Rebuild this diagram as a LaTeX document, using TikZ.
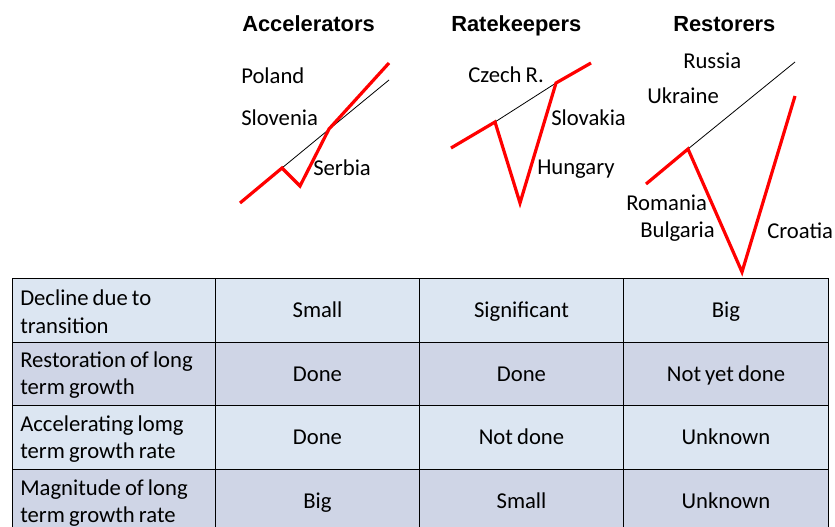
\documentclass[tikz,border=0pt]{standalone}
\usepackage{fontspec}
\setmainfont[WordSpace=0.8]{Carlito}
\newfontfamily\titlefont{Liberation Sans}
\definecolor{rowA}{RGB}{220,230,242}
\definecolor{rowB}{RGB}{207,213,230}
\begin{document}
\begin{tikzpicture}[x=0.75pt,y=-0.75pt,
  redline/.style={draw=red, line width=2.4pt, line join=miter},
  trend/.style={draw=black, line width=0.6pt},
  lbl/.style={anchor=base west, inner sep=0pt, font=\fontsize{17}{20.5}\selectfont},
  ttl/.style={anchor=base west, inner sep=0pt, font=\titlefont\bfseries\fontsize{16.4}{19}\selectfont},
  cellbase/.style={draw=black, line width=0.75pt, anchor=north west, inner ysep=0pt,
    font=\fontsize{17}{20.5}\selectfont},
  cell/.style={cellbase, align=center, inner xsep=0pt, text height=13.5pt, text depth=3pt},
  headcell/.style={cellbase, minimum width=152.25pt},
  headtxt/.style={anchor=west, inner sep=0pt, align=left, font=\fontsize{17}{20.5}\selectfont, yshift=-1pt},
  hA/.style={minimum height=48pt},
  hB/.style={minimum height=47.25pt}]
\useasboundingbox (0,0) rectangle (835,527);
% titles
\node[ttl] (t1) at (242,32) {Accelerators};
\node[ttl] (t2) at (451,32) {Ratekeepers};
\node[ttl] (t3) at (673,32) {Restorers};
% Accelerators chart
\coordinate (a1) at (240,203);
\coordinate (a2) at (282,168);
\coordinate (a3) at (300,186);
\coordinate (a4) at (329,129);
\coordinate (a5) at (389,63);
\coordinate (a6) at (389,80);
\draw[trend] (a2) -- (a6);
\draw[redline] (a1) -- (a2) -- (a3) -- (a4) -- (a5);
\node[lbl] (pl) at (241,84) {Poland};
\node[lbl] (sl) at (241,126) {Slovenia};
\node[lbl] (sb) at (313,176) {Serbia};
% Ratekeepers chart
\coordinate (b1) at (451,148);
\coordinate (b2) at (495,122);
\coordinate (b3) at (520,203);
\coordinate (b4) at (556,83);
\coordinate (b5) at (591,63);
\draw[trend] (b2) -- (b4);
\draw[redline] (b1) -- (b2) -- (b3) -- (b4) -- (b5);
\node[lbl] (cz) at (468,83) {Czech R.};
\node[lbl] (sk) at (551,126) {Slovakia};
\node[lbl] (hu) at (537,175) {Hungary};
% Restorers chart
\coordinate (c1) at (646,184);
\coordinate (c2) at (688,149);
\coordinate (c3) at (742,272);
\coordinate (c4) at (795,96);
\coordinate (c5) at (795,62);
\draw[trend] (c2) -- (c5);
\draw[redline] (c1) -- (c2) -- (c3) -- (c4);
\node[lbl] (ru) at (683,69) {Russia};
\node[lbl] (ua) at (647,104) {Ukraine};
\node[lbl] (ro) at (626,211) {Romania};
\node[lbl] (bg) at (640,238) {Bulgaria};
\node[lbl] (hr) at (767,239) {Croatia};
% table row 1
\node[headcell, hA, fill=rowA] (r1c1) at (12,278) {};
\node[cell, hA, fill=rowA, minimum width=153pt] (r1c2) at (215,278) {Small};
\node[cell, hA, fill=rowA, minimum width=153pt] (r1c3) at (419,278) {Significant};
\node[cell, hA, fill=rowA, minimum width=153.75pt] (r1c4) at (623,278) {Big};
% row 2
\node[headcell, hB, fill=rowB] (r2c1) at (12,342) {};
\node[cell, hB, fill=rowB, minimum width=153pt] (r2c2) at (215,342) {Done};
\node[cell, hB, fill=rowB, minimum width=153pt] (r2c3) at (419,342) {Done};
\node[cell, hB, fill=rowB, minimum width=153.75pt] (r2c4) at (623,342) {Not yet done};
% row 3
\node[headcell, hA, fill=rowA] (r3c1) at (12,405) {};
\node[cell, hA, fill=rowA, minimum width=153pt] (r3c2) at (215,405) {Done};
\node[cell, hA, fill=rowA, minimum width=153pt] (r3c3) at (419,405) {Not done};
\node[cell, hA, fill=rowA, minimum width=153.75pt] (r3c4) at (623,405) {Unknown};
% row 4
\node[headcell, hA, fill=rowB] (r4c1) at (12,469) {};
\node[cell, hA, fill=rowB, minimum width=153pt] (r4c2) at (215,469) {Big};
\node[cell, hA, fill=rowB, minimum width=153pt] (r4c3) at (419,469) {Small};
\node[cell, hA, fill=rowB, minimum width=153.75pt] (r4c4) at (623,469) {Unknown};
% first-column texts
\node[headtxt] (h1) at ([xshift=6pt]r1c1.west) {Decline due to\\transition};
\node[headtxt] (h2) at ([xshift=6pt]r2c1.west) {Restoration of long\\term growth};
\node[headtxt] (h3) at ([xshift=6pt]r3c1.west) {Accelerating lomg\\term growth rate};
\node[headtxt] (h4) at ([xshift=6pt]r4c1.west) {Magnitude of long\\term growth rate};
\end{tikzpicture}
\end{document}
